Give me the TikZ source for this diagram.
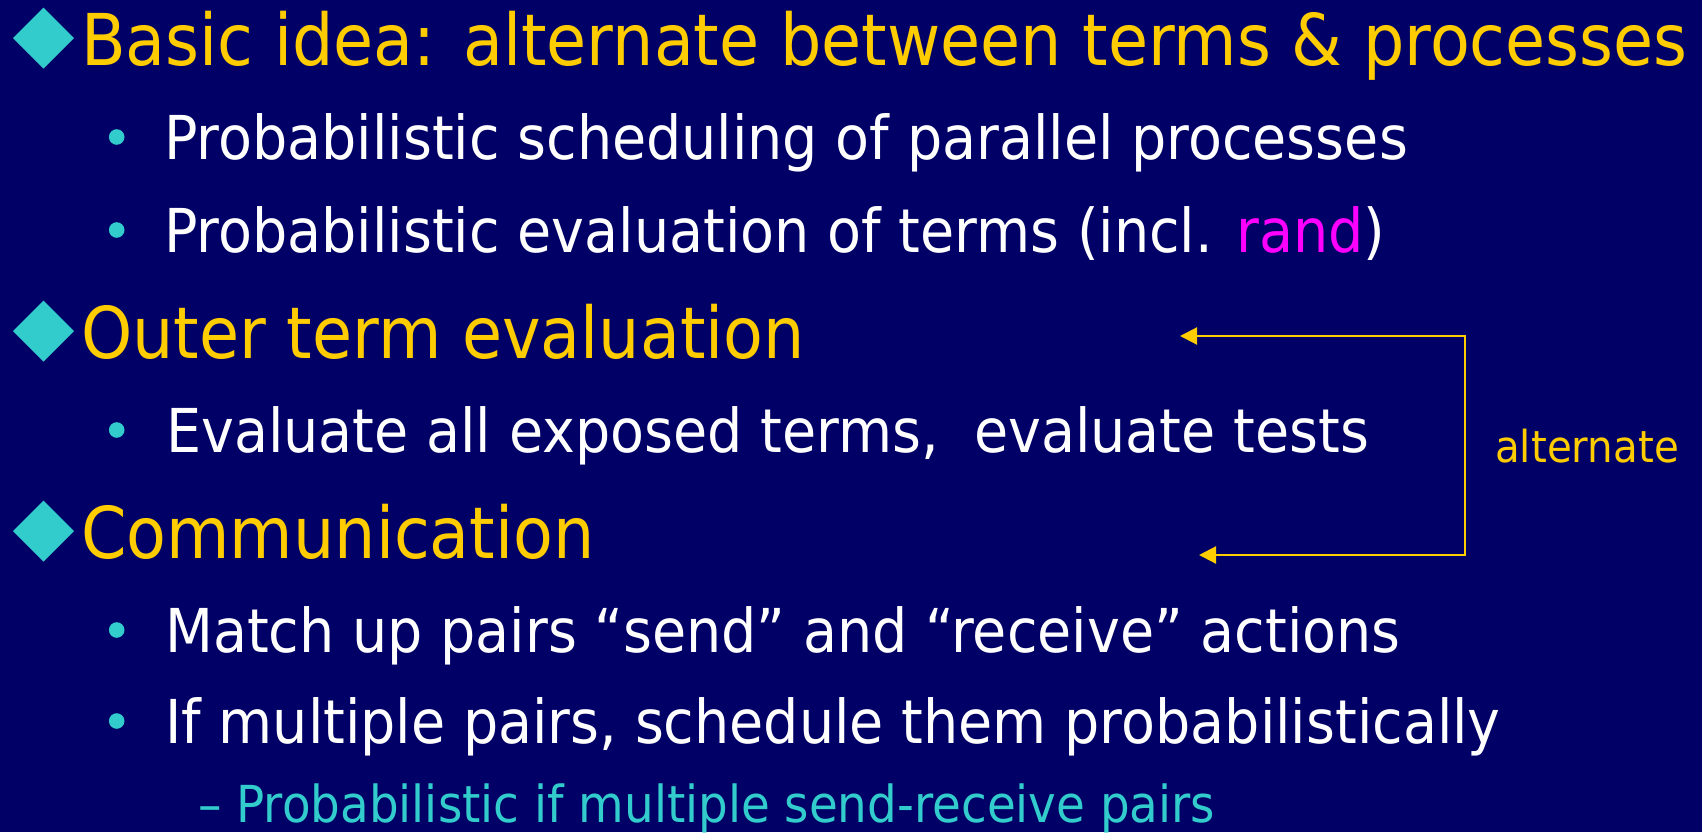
\documentclass[tikz,border=0pt]{standalone}
\usepackage{fontspec}
\setmainfont[FakeStretch=0.918]{DejaVu Sans}
\newfontfamily\headfont[FakeStretch=0.911]{DejaVu Sans}
\usetikzlibrary{%
    arrows.meta,
    positioning
}
\definecolor{slidebg}{RGB}{0,0,102}
\definecolor{slideyellow}{RGB}{255,204,0}
\definecolor{slidecyan}{RGB}{51,204,204}
\definecolor{slidemagenta}{RGB}{255,0,255}

\begin{document}
\begin{tikzpicture}[x=1pt, y=-1pt,
    heading/.style={anchor=base west, inner sep=0pt, text=slideyellow,
        font=\headfont\fontsize{71.5}{80}\selectfont},
    item/.style={anchor=base west, inner sep=0pt, text=white,
        font=\fontsize{60.5}{70}\selectfont},
    subitem/.style={anchor=base west, inner sep=0pt, text=slidecyan,
        font=\fontsize{51}{60}\selectfont},
    altnote/.style={anchor=base west, inner sep=0pt, text=slideyellow,
        font=\fontsize{44}{50}\selectfont},
    altline/.style={draw=slideyellow, line width=2.2pt,
        {Triangle[length=17pt, width=17pt]}-{Triangle[length=17pt, width=17pt]}}
]
    \fill[slidebg] (0,0) rectangle (1702,832);

    % headings and their diamonds
    \node (head1) [heading] at (81,65) {Basic idea: alternate between terms \& processes};
    \node (head2) [heading] at (81,358) {Outer term evaluation};
    \node (head3) [heading] at (81,558) {Communication};
    \foreach \Ypos in {65,358,558}
        \fill[slidecyan] (13,\Ypos-27) -- (43.5,\Ypos-57.5) -- (74,\Ypos-27)
            -- (43.5,\Ypos+3.5) -- cycle;

    % items and their bullets
    \node (item1) [item] at (164,159) {Probabilistic scheduling of parallel processes};
    \node (item2) [item] at (164,252) {Probabilistic evaluation of terms (incl. \textcolor{slidemagenta}{rand})};
    \node (item3) [item] at (166,452) {Evaluate all exposed terms,~ evaluate tests};
    \node (item4) [item] at (165,652) {Match up pairs “send” and “receive” actions};
    \node (item5) [item] at (165,743) {If multiple pairs, schedule them probabilistically};
    \foreach \Ypos in {159,252,452,652,743}
        \fill[slidecyan] (116.7,\Ypos-22) circle[radius=7.8];

    \node (sub1) [subitem] at (198,822) {– Probabilistic if multiple send-receive pairs};

    % alternation arrow
    \coordinate (alttop) at (1180,336);
    \coordinate (altturn) at (1465,336);
    \coordinate (altbot) at (1199,555);
    \draw[altline] (alttop) -- (altturn) |- (altbot);
    \node (altlabel) [altnote] at (1495,462) {alternate};
\end{tikzpicture}
\end{document}
